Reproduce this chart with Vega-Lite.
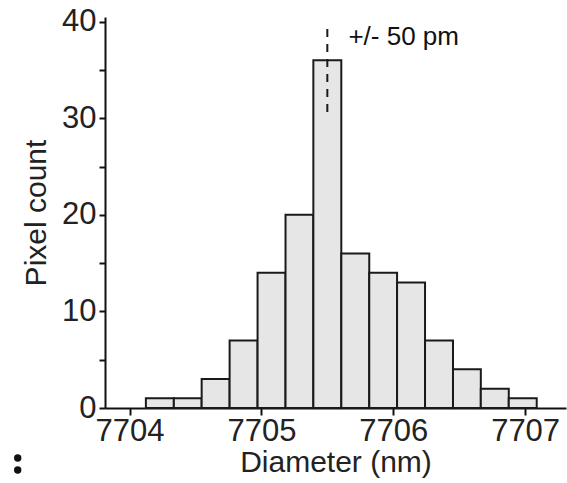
{
  "$schema": "https://vega.github.io/schema/vega-lite/v6.json",
  "width": 461,
  "height": 391,
  "autosize": {"type": "none"},
  "padding": {"left": 105, "top": 17, "right": 1, "bottom": 75},
  "background": "white",
  "config": {
    "view": {"stroke": null},
    "font": "Liberation Sans",
    "axis": {
      "domainColor": "#111111",
      "domainWidth": 2,
      "tickColor": "#111111",
      "tickWidth": 2,
      "labelFont": "Liberation Sans",
      "labelFontSize": 31,
      "labelColor": "#222222",
      "titleFont": "Liberation Sans",
      "titleFontSize": 30,
      "titleFontWeight": "normal",
      "titleColor": "#222222",
      "grid": false
    }
  },
  "datasets": {
    "bins": [
      {"bin_start": 7704.124, "bin_end": 7704.336, "count": 1},
      {"bin_start": 7704.336, "bin_end": 7704.547, "count": 1},
      {"bin_start": 7704.547, "bin_end": 7704.759, "count": 3},
      {"bin_start": 7704.759, "bin_end": 7704.971, "count": 7},
      {"bin_start": 7704.971, "bin_end": 7705.183, "count": 14},
      {"bin_start": 7705.183, "bin_end": 7705.394, "count": 20},
      {"bin_start": 7705.394, "bin_end": 7705.606, "count": 36},
      {"bin_start": 7705.606, "bin_end": 7705.818, "count": 16},
      {"bin_start": 7705.818, "bin_end": 7706.029, "count": 14},
      {"bin_start": 7706.029, "bin_end": 7706.241, "count": 13},
      {"bin_start": 7706.241, "bin_end": 7706.453, "count": 7},
      {"bin_start": 7706.453, "bin_end": 7706.664, "count": 4},
      {"bin_start": 7706.664, "bin_end": 7706.876, "count": 2},
      {"bin_start": 7706.876, "bin_end": 7707.088, "count": 1}
    ],
    "marker": [
      {"center": 7705.5, "top": 39.25, "bottom": 30.55, "label": "+/- 50 pm", "label_x": 7705.66, "label_y": 37.6}
    ],
    "dots": [
      {"gx": 7703.152, "gy": -5.18},
      {"gx": 7703.152, "gy": -6.42}
    ]
  },
  "layer": [
    {
      "data": {"name": "bins"},
      "mark": {"type": "rect", "fill": "#e6e6e6", "stroke": "#1a1a1a", "strokeWidth": 2},
      "encoding": {
        "x": {
          "field": "bin_start",
          "type": "quantitative",
          "scale": {"domain": [7703.814, 7707.31], "nice": false, "zero": false},
          "axis": {
            "title": "Diameter (nm)",
            "values": [7704, 7705, 7706, 7707],
            "format": "d",
            "tickSize": 7,
            "labelPadding": 1,
            "titlePadding": 1
          }
        },
        "x2": {"field": "bin_end"},
        "y": {
          "field": "count",
          "type": "quantitative",
          "scale": {"domain": [0, 40.48], "nice": false},
          "axis": {
            "title": "Pixel count",
            "values": [0, 5, 10, 15, 20, 25, 30, 35, 40],
            "labelExpr": "datum.value % 10 === 0 ? datum.label : ''",
            "tickSize": 6,
            "labelPadding": 3,
            "titlePadding": 10
          }
        },
        "y2": {"datum": 0}
      }
    },
    {
      "data": {"name": "marker"},
      "mark": {"type": "rule", "stroke": "#1a1a1a", "strokeWidth": 2, "strokeDash": [8, 7]},
      "encoding": {
        "x": {"field": "center", "type": "quantitative"},
        "y": {"field": "top", "type": "quantitative"},
        "y2": {"field": "bottom"}
      }
    },
    {
      "data": {"name": "marker"},
      "mark": {"type": "text", "align": "left", "baseline": "alphabetic", "fontSize": 26, "color": "#111111", "font": "Liberation Sans"},
      "encoding": {
        "x": {"field": "label_x", "type": "quantitative"},
        "y": {"field": "label_y", "type": "quantitative"},
        "text": {"field": "label"}
      }
    },
    {
      "data": {"name": "dots"},
      "mark": {"type": "point", "shape": "circle", "filled": true, "size": 55, "opacity": 1, "color": "#111111"},
      "encoding": {
        "x": {"field": "gx", "type": "quantitative"},
        "y": {"field": "gy", "type": "quantitative"}
      }
    }
  ]
}
